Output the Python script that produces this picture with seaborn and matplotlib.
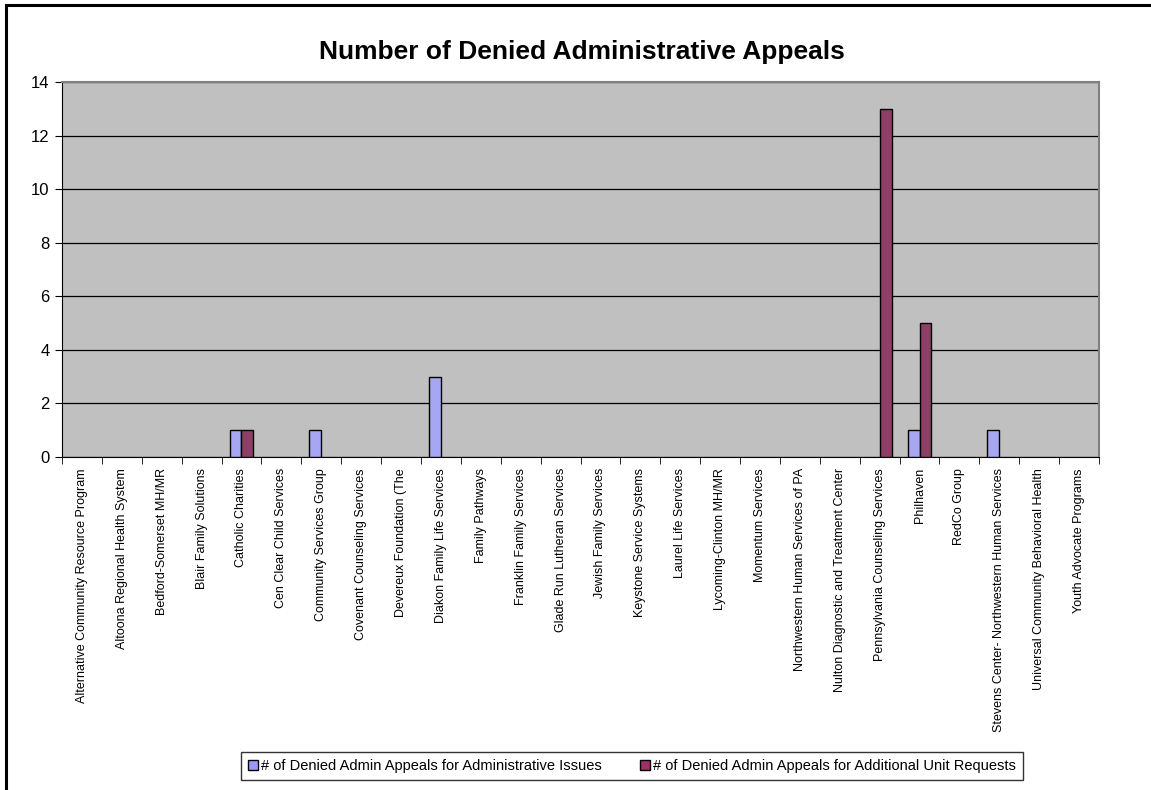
import numpy as np
import pandas as pd
import matplotlib
matplotlib.use("Agg")
import matplotlib.pyplot as plt
import seaborn as sns
from matplotlib.patches import Rectangle

# providers along the x axis
providers = [
    "Alternative Community Resource Program",
    "Altoona Regional Health System",
    "Bedford-Somerset MH/MR",
    "Blair Family Solutions",
    "Catholic Charities",
    "Cen Clear Child Services",
    "Community Services Group",
    "Covenant Counseling Services",
    "Devereux Foundation (The",
    "Diakon Family Life Services",
    "Family Pathways",
    "Franklin Family Services",
    "Glade Run Lutheran Services",
    "Jewish Family Services",
    "Keystone Service Systems",
    "Laurel Life Services",
    "Lycoming-Clinton MH/MR",
    "Momentum Services",
    "Northwestern Human Services of PA",
    "Nulton Diagnostic and Treatment Center",
    "Pennsylvania Counseling Services",
    "Philhaven",
    "RedCo Group",
    "Stevens Center- Northwestern Human Services",
    "Universal Community Behavioral Health",
    "Youth Advocate Programs",
]
admin_issues = [0, 0, 0, 0, 1, 0, 1, 0, 0, 3, 0, 0, 0, 0, 0, 0, 0, 0, 0, 0, 0, 1, 0, 1, 0, 0]
unit_requests = [0, 0, 0, 0, 1, 0, 0, 0, 0, 0, 0, 0, 0, 0, 0, 0, 0, 0, 0, 0, 13, 5, 0, 0, 0, 0]
series_names = ["# of Denied Admin Appeals for Administrative Issues",
                "# of Denied Admin Appeals for Additional Unit Requests"]

df = pd.DataFrame({
    "provider": providers * 2,
    "count": admin_issues + unit_requests,
    "series": [series_names[0]] * len(providers) + [series_names[1]] * len(providers),
})

plt.rcParams['font.family'] = ['Liberation Sans', 'DejaVu Sans']

fig = plt.figure(figsize=(11.51, 7.9), dpi=100)
ax = fig.add_axes([62/1151, 1 - 457/790, (1099-62)/1151, (457-82)/790])

sns.barplot(data=df, x="provider", y="count", hue="series",
            palette=["#9999FF", "#993366"], width=0.6, gap=0,
            edgecolor="black", linewidth=1, ax=ax, legend=False, zorder=3)

# empty bars should not leave an outline on the axis
for p in ax.patches:
    if p.get_height() == 0:
        p.set_linewidth(0)

ax.set_facecolor("#C0C0C0")
ax.set_ylim(0, 14)
ax.set_xlim(-0.5, len(providers) - 0.5)
ax.set_yticks(range(0, 15, 2))
ax.yaxis.grid(True, color="black", linewidth=0.9, zorder=1)
ax.set_axisbelow(True)
ax.set_xlabel("")
ax.set_ylabel("")
ax.set_xticks(np.arange(len(providers)))
ax.set_xticklabels(providers, rotation=90, fontsize=9)
ax.tick_params(axis="x", length=0, pad=8)
# category boundary ticks
ax.set_xticks(np.arange(len(providers) + 1) - 0.5, minor=True)
ax.tick_params(axis="x", which="minor", length=5, direction="out", color="black")
ax.tick_params(axis="y", length=5, direction="out", labelsize=12, pad=4)
for s in ["left", "bottom"]:
    ax.spines[s].set_color("black")
for s in ["top", "right"]:
    ax.spines[s].set_color("#808080")
    ax.spines[s].set_linewidth(1.5)

fig.text(582/1151, 1 - 52/790, "Number of Denied Administrative Appeals",
         ha="center", va="center", fontsize=19, fontweight="bold")

handles = [Rectangle((0, 0), 1, 1, facecolor=c, edgecolor="black", linewidth=1)
           for c in ["#9999FF", "#993366"]]
leg = fig.legend(handles, series_names, loc="center", bbox_to_anchor=(632/1151, 1 - 766/790),
                 ncol=2, fontsize=10.5, frameon=True, fancybox=False, handlelength=0.7,
                 handleheight=0.7, handletextpad=0.2, columnspacing=2.6, borderpad=0.5,
                 borderaxespad=0)
leg.get_frame().set_edgecolor("black")
leg.get_frame().set_linewidth(1)

# outer chart border (left and top edges visible, rest runs off the image)
fig.patches.append(Rectangle((5.5/1151, -0.02), 1.1, (790-5)/790 + 0.02,
                             transform=fig.transFigure, fill=False,
                             edgecolor="black", linewidth=2.2))

fig.savefig("out.png", dpi=100)
